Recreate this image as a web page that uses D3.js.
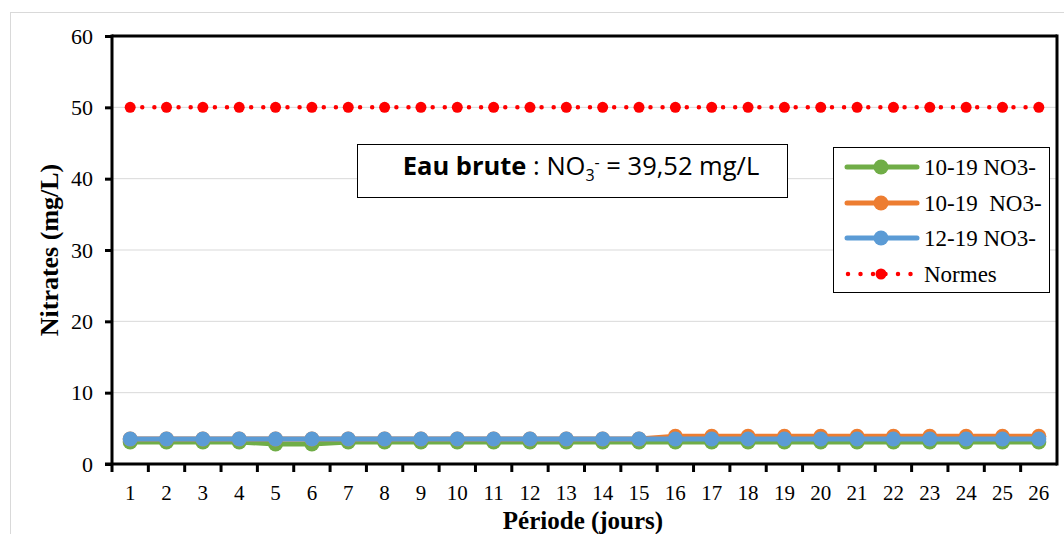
<!DOCTYPE html>
<html>
<head>
<meta charset="utf-8">
<script src="https://cdn.jsdelivr.net/npm/d3@7"></script>
<style>
  html, body { margin: 0; padding: 0; background: #fff; }
  svg { display: block; }
</style>
</head>
<body>
<svg id="chart" width="1064" height="534"></svg>
<script>
// Sampling days
const days = d3.range(1, 27).map(String);

// Nitrate concentrations (mg/L) per day
const serieGreen  = [3.1,3.1,3.1,3.1,2.8,2.8,3.1,3.1,3.1,3.1,3.1,3.1,3.1,3.1,3.1,3.1,3.1,3.1,3.1,3.1,3.1,3.1,3.1,3.1,3.1,3.1];
const serieOrange = [3.5,3.5,3.5,3.5,3.5,3.5,3.5,3.5,3.5,3.5,3.5,3.5,3.5,3.5,3.5,3.9,3.9,3.9,3.9,3.9,3.9,3.9,3.9,3.9,3.9,3.9];
const serieBlue   = [3.5,3.5,3.5,3.5,3.5,3.5,3.5,3.5,3.5,3.5,3.5,3.5,3.5,3.5,3.5,3.5,3.5,3.5,3.5,3.5,3.5,3.5,3.5,3.5,3.5,3.5];
const normes      = days.map(() => 50);

const seriesNames = ["10-19 NO3-", "10-19  NO3-", "12-19 NO3-", "Normes"];
const seriesColors = ["#70AD47", "#ED7D31", "#5B9BD5", "#FF0000"];
const yTicks = [0, 10, 20, 30, 40, 50, 60];

const svg = d3.select("#chart");
const serif = "'Liberation Serif', 'Times New Roman', serif";

// Outer chart frame
svg.append("rect").attr("x", 10.5).attr("y", 12.5).attr("width", 1070).attr("height", 540)
  .attr("fill", "#fff").attr("stroke", "#D9D9D9").attr("stroke-width", 1);

const plotL = 112, plotR = 1057, plotT = 36, plotB = 464;

const x = d3.scaleBand().domain(days).range([plotL, plotR]);
const y = d3.scaleLinear().domain([0, 60]).range([plotB, plotT]);

// Horizontal gridlines
svg.append("g").selectAll("line").data(yTicks.filter(t => t > 0 && t < 60)).join("line")
  .attr("x1", plotL).attr("x2", plotR)
  .attr("y1", d => y(d)).attr("y2", d => y(d))
  .attr("stroke", "#D9D9D9").attr("stroke-width", 1);

// Top and right plot borders
svg.append("line").attr("x1", plotL).attr("x2", plotR).attr("y1", plotT).attr("y2", plotT)
  .attr("stroke", "#000").attr("stroke-width", 3);
svg.append("line").attr("x1", plotR).attr("x2", plotR).attr("y1", plotT - 1.5).attr("y2", plotB + 1.5)
  .attr("stroke", "#000").attr("stroke-width", 3);

// Y axis
const yAxis = svg.append("g").attr("transform", `translate(${plotL},0)`)
  .call(d3.axisLeft(y).tickValues(yTicks).tickSize(7).tickPadding(12));
yAxis.select(".domain").attr("stroke", "#000").attr("stroke-width", 3)
  .attr("d", `M0,${plotT - 1.5}V${plotB}`);
yAxis.selectAll(".tick line").attr("stroke", "#000").attr("stroke-width", 3);
yAxis.selectAll(".tick text").attr("font-family", serif).attr("font-size", 22).attr("fill", "#000");

// X axis with ticks between categories
const xAxis = svg.append("g").attr("transform", `translate(0,${plotB})`);
xAxis.append("line").attr("x1", plotL - 7).attr("x2", plotR).attr("y1", 0).attr("y2", 0)
  .attr("stroke", "#000").attr("stroke-width", 3);
xAxis.selectAll("line.tk").data(days.slice(1)).join("line").attr("class", "tk")
  .attr("x1", d => x(d)).attr("x2", d => x(d)).attr("y1", 0).attr("y2", 8)
  .attr("stroke", "#000").attr("stroke-width", 3);
xAxis.append("line").attr("x1", plotL).attr("x2", plotL).attr("y1", 0).attr("y2", 8)
  .attr("stroke", "#000").attr("stroke-width", 3);
xAxis.selectAll("text").data(days).join("text")
  .attr("x", d => x(d) + x.bandwidth() / 2).attr("y", 36)
  .attr("text-anchor", "middle").attr("font-family", serif).attr("font-size", 21).attr("fill", "#000")
  .text(d => d);

// Axis titles
svg.append("text").attr("transform", `translate(58,${(plotT + plotB) / 2}) rotate(-90)`)
  .attr("text-anchor", "middle").attr("font-family", serif).attr("font-size", 26)
  .attr("font-weight", "bold").text("Nitrates (mg/L)");
svg.append("text").attr("x", 583).attr("y", 529)
  .attr("text-anchor", "middle").attr("font-family", serif).attr("font-size", 25)
  .attr("font-weight", "bold").text("Période (jours)");

const cx = d => x(d) + x.bandwidth() / 2;
const line = d3.line().x((v, i) => cx(days[i])).y(v => y(v));

// Standard limit: dotted red line with markers
svg.append("path").datum(normes).attr("d", line)
  .attr("fill", "none").attr("stroke", seriesColors[3]).attr("stroke-width", 4.5)
  .attr("stroke-linecap", "round").attr("stroke-dasharray", "0 12.1");
svg.append("g").selectAll("circle").data(normes).join("circle")
  .attr("cx", (v, i) => cx(days[i])).attr("cy", v => y(v)).attr("r", 5.5)
  .attr("fill", seriesColors[3]);

// Measured series
[serieGreen, serieOrange, serieBlue].forEach((s, k) => {
  svg.append("path").datum(s).attr("d", line)
    .attr("fill", "none").attr("stroke", seriesColors[k]).attr("stroke-width", 5)
    .attr("stroke-linejoin", "round");
  svg.append("g").selectAll("circle").data(s).join("circle")
    .attr("cx", (v, i) => cx(days[i])).attr("cy", v => y(v)).attr("r", 7.5)
    .attr("fill", seriesColors[k]);
});

// Raw water annotation box
const ann = svg.append("g");
ann.append("rect").attr("x", 357.5).attr("y", 144.5).attr("width", 430).attr("height", 53)
  .attr("fill", "#fff").attr("stroke", "#000").attr("stroke-width", 1);
const annText = ann.append("text").attr("x", 581).attr("y", 175).attr("text-anchor", "middle")
  .attr("font-family", "'Open Sans', 'Liberation Sans', sans-serif").attr("font-size", 25.5).attr("fill", "#000");
annText.append("tspan").attr("font-weight", "bold").text("Eau brute");
annText.append("tspan").text(" : NO");
annText.append("tspan").attr("font-size", 16).attr("dy", 6).text("3");
annText.append("tspan").attr("font-size", 16).attr("dy", -13).text("-");
annText.append("tspan").attr("dy", 7).text(" = 39,52 mg/L");

// Legend
const lg = svg.append("g");
lg.append("rect").attr("x", 833.5).attr("y", 147.5).attr("width", 216).attr("height", 145)
  .attr("fill", "#fff").attr("stroke", "#000").attr("stroke-width", 1);
const rows = [167, 203, 238, 274];
seriesNames.forEach((name, k) => {
  const yy = rows[k];
  if (k < 3) {
    lg.append("line").attr("x1", 847).attr("x2", 917).attr("y1", yy).attr("y2", yy)
      .attr("stroke", seriesColors[k]).attr("stroke-width", 5).attr("stroke-linecap", "round");
    lg.append("circle").attr("cx", 881).attr("cy", yy).attr("r", 7.5).attr("fill", seriesColors[k]);
  } else {
    lg.append("line").attr("x1", 848).attr("x2", 911).attr("y1", yy).attr("y2", yy)
      .attr("stroke", seriesColors[k]).attr("stroke-width", 4.5).attr("stroke-linecap", "round")
      .attr("stroke-dasharray", "0 12.5");
    lg.append("circle").attr("cx", 881).attr("cy", yy).attr("r", 5.5).attr("fill", seriesColors[k]);
  }
  lg.append("text").attr("x", 924).attr("y", yy + 8).attr("font-family", serif)
    .attr("font-size", 23).attr("fill", "#000").attr("xml:space", "preserve")
    .style("white-space", "pre").text(name);
});
</script>
</body>
</html>
